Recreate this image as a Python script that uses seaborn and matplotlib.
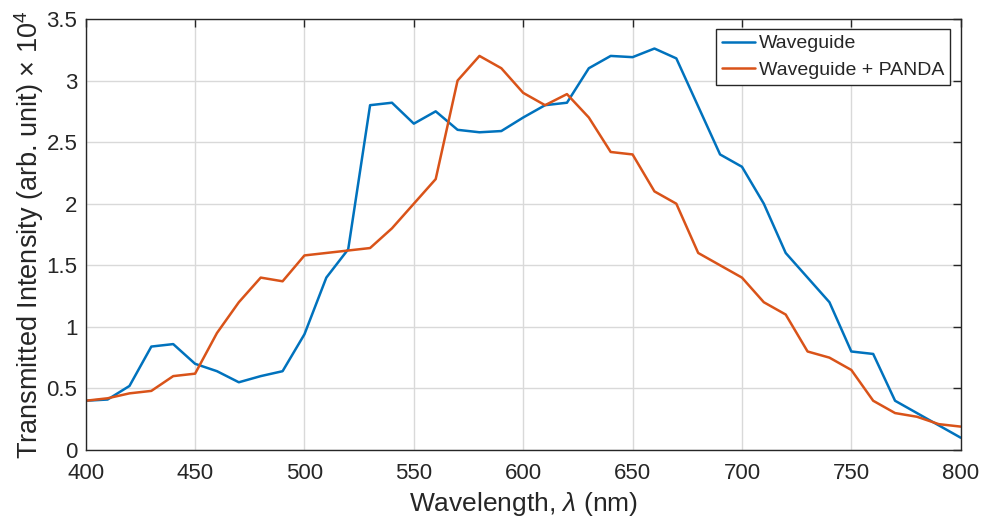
import numpy as np
import pandas as pd
import seaborn as sns
import matplotlib.pyplot as plt
from matplotlib.ticker import MultipleLocator, FuncFormatter

wavelength = list(range(400, 801, 10))

waveguide = [0.40, 0.41, 0.52, 0.84, 0.86, 0.70, 0.64, 0.55, 0.60, 0.64,
             0.94, 1.40, 1.63, 2.80, 2.82, 2.65, 2.75, 2.60, 2.58, 2.59,
             2.70, 2.80, 2.82, 3.10, 3.20, 3.19, 3.26, 3.18, 2.79, 2.40,
             2.30, 2.00, 1.60, 1.40, 1.20, 0.80, 0.78, 0.40, 0.30, 0.20,
             0.10]

waveguide_panda = [0.40, 0.42, 0.46, 0.48, 0.60, 0.62, 0.95, 1.20, 1.40, 1.37,
                   1.58, 1.60, 1.62, 1.64, 1.80, 2.00, 2.20, 3.00, 3.20, 3.10,
                   2.90, 2.80, 2.89, 2.70, 2.42, 2.40, 2.10, 2.00, 1.60, 1.50,
                   1.40, 1.20, 1.10, 0.80, 0.75, 0.65, 0.40, 0.30, 0.27, 0.21,
                   0.19]

series_names = ['Waveguide', 'Waveguide + PANDA']
colors = ['#0072BD', '#D95319']

# long-form table for seaborn
df = pd.DataFrame({
    'wavelength': wavelength * 2,
    'intensity': waveguide + waveguide_panda,
    'series': [series_names[0]] * len(wavelength) + [series_names[1]] * len(wavelength),
})

sns.set_style("whitegrid")
plt.rcParams['font.family'] = ['Liberation Sans', 'DejaVu Sans']
plt.rcParams['mathtext.fontset'] = 'custom'
plt.rcParams['mathtext.rm'] = 'Liberation Sans'
plt.rcParams['mathtext.it'] = 'Liberation Sans:italic'

fig = plt.figure(figsize=(9.83, 5.2), dpi=100)
ax = fig.add_axes([0.0872, 0.1346, 0.8901, 0.8289])

sns.lineplot(data=df, x='wavelength', y='intensity', hue='series',
             palette=colors, linewidth=1.8, ax=ax)

ax.set_xlim(400, 800)
ax.set_ylim(0, 3.5)
ax.xaxis.set_major_locator(MultipleLocator(50))
ax.yaxis.set_major_locator(MultipleLocator(0.5))
ax.yaxis.set_major_formatter(FuncFormatter(lambda v, p: f'{v:g}'))

ax.grid(True, color='#d9d9d9', linewidth=1.0)
for s in ax.spines.values():
    s.set_color('#262626')
    s.set_linewidth(1.0)
ax.tick_params(direction='in', length=6, width=1, colors='#262626',
               labelsize=16, top=True, right=True, labelcolor='#262626')
ax.tick_params(axis='y', pad=6)
ax.tick_params(axis='x', pad=9)

ax.set_xlabel(r'Wavelength, $\lambda$ (nm)', fontsize=19, color='#262626', labelpad=5)
ax.set_ylabel(r'Transmitted Intensity (arb. unit) $\times$ 10$^4$', fontsize=19.5,
              color='#262626', labelpad=0)

leg = ax.legend(loc='upper right', fontsize=14, frameon=True, fancybox=False,
                edgecolor='#262626', framealpha=1, handlelength=1.7,
                handletextpad=0.2, borderpad=0.3, labelspacing=0.45,
                borderaxespad=0, bbox_to_anchor=(0.9875, 0.977))
leg.get_frame().set_linewidth(1.0)

fig.savefig('out.png', dpi=100)
